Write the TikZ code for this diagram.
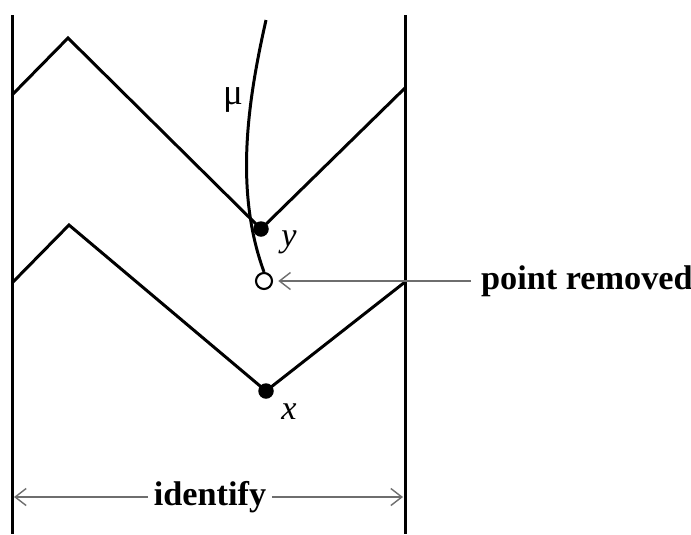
\documentclass[tikz,border=0pt]{standalone}
\usepackage{fontspec}
\setmainfont{Liberation Serif}
\usetikzlibrary{arrows.meta,positioning}
\definecolor{PtrGray}{HTML}{6E6E6E}

\begin{document}
\begin{tikzpicture}[
    x=0.2mm, y=-0.2mm,
    font=\fontsize{19.5}{23}\selectfont,
    wall/.style={line width=1.7pt},
    zig/.style={line width=1.7pt, line join=miter},
    dot/.style={circle, fill, inner sep=0pt, minimum size=3.1mm},
    hole/.style={circle, draw, line width=1.2pt, fill=white, inner sep=0pt, minimum size=3.2mm},
    ptr/.style={draw=PtrGray, line width=0.8pt, -{Straight Barb[length=2.2mm, width=3.4mm]}},
    lbl/.style={inner sep=1pt}
]
\useasboundingbox (0,0) rectangle (691,534);

% the two walls of the strip
\coordinate (LT) at (12.5,15);  \coordinate (LB) at (12.5,534);
\coordinate (RT) at (405,15); \coordinate (RB) at (405,534);
\draw[wall] (LT) -- (LB);
\draw[wall] (RT) -- (RB);

% points
\node[dot] (ptY) at (261,229) {};
\node[dot] (ptX) at (266,391) {};
\node[hole] (gap) at (264,281) {};
\node[lbl, font=\fontsize{19.5}{23}\selectfont\itshape] (ylab) at (289,242) {y};
\node[lbl, font=\fontsize{19.5}{23}\selectfont\itshape] (xlab) at (289,412) {x};

% upper zigzag
\coordinate (u0) at (12,95);
\coordinate (u1) at (68,38);
\coordinate (u3) at (405,88);
\draw[zig] (u0) -- (u1) -- (ptY.center) -- (u3);

% lower zigzag
\coordinate (l0) at (12,283);
\coordinate (l1) at (69,225);
\coordinate (l3) at (405,282);
\draw[zig] (l0) -- (l1) -- (ptX.center) -- (l3);

% path mu ending at the removed point
\coordinate (mutop) at (266,20);
\draw[line width=1.7pt] (mutop) .. controls (248,100) and (234,190) .. (gap.north);
\node[lbl, font=\fontsize{21}{24}\selectfont] (mulab) at (233,100) {μ};

% pointer to the removed point
\node[lbl, font=\fontsize{19.5}{23}\selectfont\bfseries, anchor=west] (removed) at (479,281) {point removed};
\draw[ptr, shorten <=4.5pt, shorten >=3pt] (removed.west) -- (gap.east);

% identification of the walls
\node[lbl, font=\fontsize{19.5}{23}\selectfont\bfseries] (ident) at (210,497) {identify};
\coordinate (idL) at (14,497);
\coordinate (idR) at (403,497);
\draw[ptr, shorten <=2pt] (ident.west) -- (idL);
\draw[ptr, shorten <=2pt] (ident.east) -- (idR);
\end{tikzpicture}
\end{document}
